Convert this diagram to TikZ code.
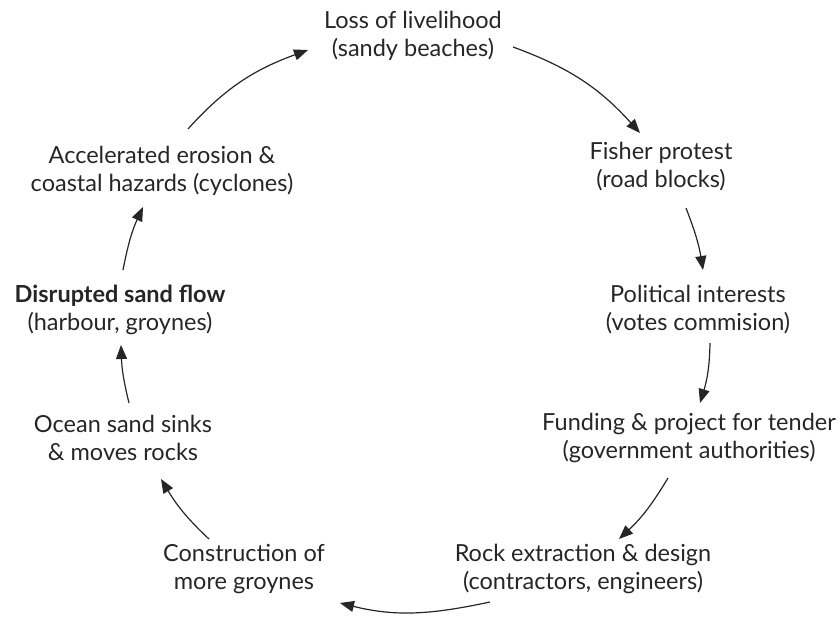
\documentclass[tikz,border=0pt]{standalone}
\usepackage{fontspec}
\setmainfont{Lato}
\usetikzlibrary{arrows.meta,calc}
\begin{document}
\begin{tikzpicture}[x=1pt,y=1pt,
  lbl/.style={align=center,font=\fontsize{23.5}{28}\selectfont,inner sep=0pt,text=black!85},
  arr/.style={-{Triangle[length=14pt,width=11pt]},line width=1.2pt,draw=black!85}]
\path[use as bounding box] (0,0) rectangle (840,-622);
\node[lbl] (loss) at (413,-36) {Loss of livelihood\\(sandy beaches)};
\node[lbl] (fisher) at (661,-167) {Fisher protest\\(road blocks)};
\node[lbl] (political) at (698,-310) {Political interests\\(votes commision)};
\node[lbl] (funding) at (689,-438) {Funding \& project for tender\\(government authorities)};
\node[lbl] (rock) at (583,-569) {Rock extraction \& design\\(contractors, engineers)};
\node[lbl] (construction) at (244,-569) {Construction of\\more groynes};
\node[lbl] (ocean) at (123,-438) {Ocean sand sinks\\\& moves rocks};
\node[lbl] (disrupted) at (120,-310) {\textbf{Disrupted sand flow}\\(harbour, groynes)};
\node[lbl] (accelerated) at (162,-171) {Accelerated erosion \&\\coastal hazards (cyclones)};

\draw[arr] ($(loss)+(100,-11)$) to[out=-20,in=132] ($(fisher)+(-21,34)$);
\draw[arr] ($(fisher)+(25,-41)$) to[out=-69,in=99] ($(political)+(5,40)$);
\draw[arr] ($(political)+(12,-33)$) to[out=-91,in=73] ($(funding)+(11,35)$);
\draw[arr] ($(funding)+(-21,-40)$) to[out=-121,in=43] ($(rock)+(36,30)$);
\draw[arr] ($(rock)+(-93,-33)$) to[out=-168,in=-14] ($(construction)+(96,-34)$);
\draw[arr] ($(construction)+(-35,30)$) to[out=137,in=-59] ($(ocean)+(38,-41)$);
\draw[arr] ($(ocean)+(6,35)$) to[out=104,in=-88] ($(disrupted)+(1,-35)$);
\draw[arr] ($(disrupted)+(3,40)$) to[out=79,in=-115] ($(accelerated)+(-19,-36)$);
\draw[arr] ($(accelerated)+(26,42)$) to[out=48,in=-160] ($(loss)+(-105,-14)$);
\end{tikzpicture}
\end{document}
